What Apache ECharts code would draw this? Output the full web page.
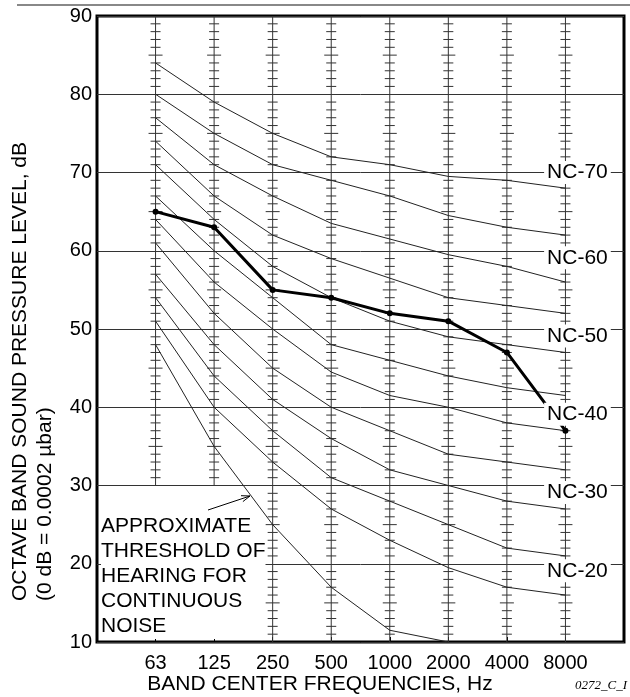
<!DOCTYPE html>
<html><head><meta charset="utf-8">
<script src="https://cdn.jsdelivr.net/npm/echarts@6/dist/echarts.min.js"></script>
<style>html,body{margin:0;padding:0;background:#fff}#c{width:630px;height:697px}</style>
</head><body><div id="c"></div>
<script>
// ---- data ----
const frequencies = ['63', '125', '250', '500', '1000', '2000', '4000', '8000'];
const yTicks = [10, 20, 30, 40, 50, 60, 70, 80, 90];
const nc70 = [84, 79, 75, 72, 71, 69.5, 69, 68];
const nc65 = [80, 75, 71, 69, 67, 64.5, 63, 62];
const nc60 = [77, 71, 67, 63.5, 61.5, 59.5, 58, 56];
const nc55 = [74, 67, 62, 59, 56.5, 54, 53, 52];
const nc50 = [71, 64, 58, 54, 51, 49, 48, 47];
const nc45 = [67, 60, 54, 48, 46, 44, 42.5, 41.5];
const nc40 = [64, 56, 50, 44.5, 41.5, 40, 38, 37];
const nc35 = [61, 52, 45, 40, 37, 34, 33, 32];
const nc30 = [57, 48, 41, 36, 32, 30, 28, 27];
const nc25 = [54, 44, 37, 31, 28, 25, 22, 21];
const nc20 = [51, 40, 33, 27, 23, 19.5, 17, 16];
const threshold = [48, 35, 25, 17, 11.5, 10];
const measured = [65, 63, 55, 54, 52, 51, 47, 37];
const ncLabelNames = ['NC-70', 'NC-60', 'NC-50', 'NC-40', 'NC-30', 'NC-20'];
const ncLabelLevels = [70, 60, 50, 40, 30, 20];
const scaleLow = [30, 30, 10, 10, 10, 10, 10, 10];
const scaleHigh = [90, 90, 90, 90, 90, 90, 90, 90];

// ---- chart ----
const FONT = '"Liberation Sans", Arial, sans-serif';
const ncCurves = [nc70, nc65, nc60, nc55, nc50, nc45, nc40, nc35, nc30, nc25, nc20];
const toXY = arr => arr.map((v, i) => [i + 1, v]);

const series = [];
series.push({
  type: 'custom', z: 2, silent: true,
  data: frequencies.map((f, i) => [i + 1, scaleLow[i], scaleHigh[i]]),
  renderItem(params, api) {
    const x = api.value(0), lo = api.value(1), hi = api.value(2);
    const t = api.coord([x, hi]), b = api.coord([x, lo]);
    const st = { stroke: '#333', lineWidth: 1 };
    const ch = [{ type: 'line', shape: { x1: t[0], y1: t[1], x2: b[0], y2: b[1] }, style: st }];
    for (let v = lo + 1; v < hi; v++) {
      if (v % 10 === 0) continue;
      const p = api.coord([x, v]);
      const h = v % 5 === 0 ? 7 : 5;
      ch.push({ type: 'line', shape: { x1: p[0] - h, y1: p[1], x2: p[0] + h, y2: p[1] }, style: st });
    }
    return { type: 'group', children: ch };
  }
});
ncCurves.forEach(c => series.push({
  type: 'line', data: toXY(c), symbol: 'none', silent: true, z: 3,
  lineStyle: { color: '#222', width: 1 }
}));
series.push({
  type: 'line', data: toXY(threshold), symbol: 'none', silent: true, z: 3,
  lineStyle: { color: '#222', width: 1 }
});
series.push({
  type: 'line', data: toXY(measured), symbol: 'circle', symbolSize: 6, silent: true, z: 4,
  itemStyle: { color: '#000' }, lineStyle: { color: '#000', width: 3 }
});
series.push({
  type: 'custom', z: 10, silent: true,
  data: ncLabelNames.map((n, i) => [frequencies.length, ncLabelLevels[i], i]),
  renderItem(params, api) {
    const p = api.coord([api.value(0), api.value(1)]);
    const idx = api.value(2);
    return {
      type: 'text', x: p[0] + 12, y: p[1] + (idx === 0 ? 0 : 7),
      style: {
        text: ncLabelNames[idx], fontSize: 21, fontFamily: FONT, fill: '#000',
        align: 'center', verticalAlign: 'middle', backgroundColor: '#fff', padding: [1, 3]
      }
    };
  }
});

const chart = echarts.init(document.getElementById('c'));
chart.setOption({
  animation: false,
  backgroundColor: '#fff',
  grid: { left: 97, right: 6, top: 16, bottom: 55, show: true, borderColor: '#000', borderWidth: 3 },
  xAxis: {
    type: 'value', min: 0, max: 9, interval: 1,
    axisLine: { show: false }, splitLine: { show: false },
    axisTick: { show: true, inside: true, length: 5, lineStyle: { color: '#000' } },
    axisLabel: {
      margin: 11, fontSize: 20, fontFamily: FONT, color: '#000',
      formatter: v => (v >= 1 && v <= frequencies.length) ? frequencies[v - 1] : ''
    }
  },
  yAxis: {
    type: 'value', min: yTicks[0], max: yTicks[yTicks.length - 1], interval: 10,
    axisLine: { show: false }, axisTick: { show: false },
    splitLine: { show: true, lineStyle: { color: '#333', width: 1 } },
    axisLabel: { margin: 5, fontSize: 20, fontFamily: FONT, color: '#000' }
  },
  graphic: [
    { type: 'line', shape: { x1: 17, y1: 5, x2: 630, y2: 5 }, style: { stroke: '#888', lineWidth: 2 } },
    { type: 'text', x: 8, y: 601, rotation: Math.PI / 2,
      style: { text: 'OCTAVE BAND SOUND PRESSURE LEVEL, dB\n(0 dB = 0.0002 µbar)', fontSize: 21, fontFamily: FONT,
               fill: '#000', align: 'left', verticalAlign: 'top', lineHeight: 25 } },
    { type: 'text', x: 320, y: 684,
      style: { text: 'BAND CENTER FREQUENCIES, Hz', fontSize: 21, fontFamily: FONT, fill: '#000', align: 'center', verticalAlign: 'middle' } },
    { type: 'text', x: 627, y: 686,
      style: { text: '0272_C_I', fontSize: 13, fontStyle: 'italic', fontFamily: '"Liberation Serif", serif', fill: '#000', align: 'right', verticalAlign: 'middle' } },
    { type: 'text', x: 101, y: 514, z: 1,
      style: { text: 'APPROXIMATE\nTHRESHOLD OF\nHEARING FOR\nCONTINUOUS\nNOISE', fontSize: 21, fontFamily: FONT, fill: '#000',
               align: 'left', verticalAlign: 'top', lineHeight: 25, backgroundColor: '#fff' } },
    { type: 'polyline', shape: { points: [[208, 510], [250, 496]] }, style: { stroke: '#000', lineWidth: 1, fill: null } },
    { type: 'polyline', shape: { points: [[241, 495.7], [250, 496], [242.9, 501.6]] }, style: { stroke: '#000', lineWidth: 1, fill: null } }
  ],
  series
});
</script></body></html>
